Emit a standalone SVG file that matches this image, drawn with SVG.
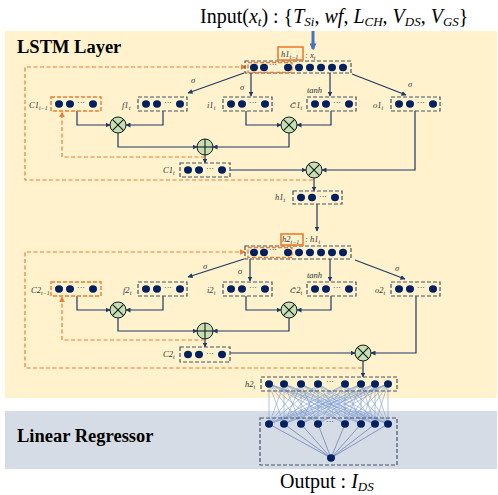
<svg xmlns="http://www.w3.org/2000/svg" width="498" height="495" viewBox="0 0 498 495">
<style>
.bg1{fill:#FFF2CC}
.bg2{fill:#D6DCE5}
.title{font-family:"Liberation Serif",serif;font-weight:bold;font-size:18.5px;fill:#000}
.big{font-family:"Liberation Serif",serif;font-size:20px;fill:#000}
.lab{font-family:"Liberation Serif",serif;font-style:italic;font-size:8.5px;fill:#333}
.tl{font-family:"DejaVu Serif",serif}
.box{fill:none;stroke:#44546A;stroke-width:1.2;stroke-dasharray:4 2}
.obox{fill:none;stroke:#ED7D31;stroke-width:1.4;stroke-dasharray:4 2}
.osolid{fill:none;stroke:#ED7D31;stroke-width:1.6}
.dot{fill:#002060}
.lna{fill:none;stroke:#1F3864;stroke-width:1.2;marker-end:url(#ah)}
.ola{fill:none;stroke:#ED7D31;stroke-width:1.2;stroke-dasharray:4 2.5;marker-end:url(#oh)}
.op{fill:#C5E0B4;stroke:#1a1a1a;stroke-width:1}
.opl{stroke:#1a1a1a;stroke-width:1.1}
.dense{stroke:#7F9CD0;stroke-width:0.6}
.out{stroke:#4A68A8;stroke-width:0.6}
.dots3{font-family:"Liberation Serif",serif;font-size:8px;fill:#002060}
</style>
<defs>
<marker id="ah" viewBox="0 0 10 10" refX="9" refY="5" markerWidth="5" markerHeight="5" orient="auto" markerUnits="userSpaceOnUse">
<path d="M0,0 L10,5 L0,10 z" fill="#1F3864"/>
</marker>
<marker id="oh" viewBox="0 0 10 10" refX="9" refY="5" markerWidth="6" markerHeight="6" orient="auto" markerUnits="userSpaceOnUse">
<path d="M0,0 L10,5 L0,10 z" fill="#ED7D31"/>
</marker>
<marker id="bh" viewBox="0 0 10 10" refX="8" refY="5" markerWidth="7" markerHeight="7" orient="auto" markerUnits="userSpaceOnUse">
<path d="M0,0 L10,5 L0,10 z" fill="#4472C4"/>
</marker>
<g id="row4">
<ellipse class="dot" cx="8" cy="7" rx="4" ry="3.7"/>
<ellipse class="dot" cx="19" cy="7" rx="4" ry="3.7"/>
<text class="dots3" x="26" y="8">···</text>
<ellipse class="dot" cx="42" cy="7" rx="4" ry="3.7"/>
</g>
<g id="mul">
<circle class="op" cx="0" cy="0" r="8"/>
<line class="opl" x1="-5.6" y1="-5.6" x2="5.6" y2="5.6"/>
<line class="opl" x1="-5.6" y1="5.6" x2="5.6" y2="-5.6"/>
</g>
<g id="add">
<circle class="op" cx="0" cy="0" r="8"/>
<line class="opl" x1="-8" y1="0" x2="8" y2="0"/>
<line class="opl" x1="0" y1="-8" x2="0" y2="8"/>
</g>
</defs>

<!-- backgrounds -->
<rect class="bg1" x="5" y="31" width="492" height="367"/>
<rect class="bg2" x="5" y="411" width="492" height="58"/>

<text class="title" x="17" y="53">LSTM Layer</text>
<text class="title" x="17" y="442">Linear Regressor</text>

<text class="big" x="200" y="23">Input(<tspan font-style="italic">x</tspan><tspan font-style="italic" font-size="13" dy="3">t</tspan><tspan dy="-3">) : {</tspan><tspan font-style="italic">T</tspan><tspan font-style="italic" font-size="13" dy="3">Si</tspan><tspan dy="-3">,  </tspan><tspan font-style="italic">wf</tspan>,  <tspan font-style="italic">L</tspan><tspan font-style="italic" font-size="13" dy="3">CH</tspan><tspan dy="-3">,  </tspan><tspan font-style="italic">V</tspan><tspan font-style="italic" font-size="13" dy="3">DS</tspan><tspan dy="-3">,  </tspan><tspan font-style="italic">V</tspan><tspan font-style="italic" font-size="13" dy="3">GS</tspan><tspan dy="-3">}</tspan></text>

<text class="big" x="280" y="488" font-size="19">Output : <tspan font-style="italic">I</tspan><tspan font-style="italic" font-size="13" dy="3">DS</tspan></text>

<!-- connectors -->
<g id="connectors">
<line x1="313" y1="31" x2="313" y2="49" stroke="#4472C4" stroke-width="3" marker-end="url(#bh)"/>
<!-- layer 1 -->
<path class="lna" d="M244 73 L188 93"/>
<path class="lna" d="M251 73 V96"/>
<path class="lna" d="M330 73 V96"/>
<path class="lna" d="M352 74 L406 95"/>
<path class="lna" d="M77 111 V125 H110"/>
<path class="lna" d="M163 111 V125 H126"/>
<path class="lna" d="M118 133 V147 H197"/>
<path class="lna" d="M246 111 V125 H281"/>
<path class="lna" d="M331 111 V125 H297"/>
<path class="lna" d="M289 133 V147 H213"/>
<path class="lna" d="M205 155 V163"/>
<path class="lna" d="M230 170 H306"/>
<path class="lna" d="M415 111 V170 H322"/>
<path class="lna" d="M314 178 V191"/>
<path class="ola" d="M205 157 H62 V112"/>
<path class="ola" d="M313 180 H25 V67 H246"/>
<path class="lna" d="M317 204 V231"/>
<!-- layer 2 -->
<path class="lna" d="M244 259 L188 277"/>
<path class="lna" d="M250 259 V281"/>
<path class="lna" d="M330 259 V281"/>
<path class="lna" d="M355 260 L405 279"/>
<path class="lna" d="M77 296 V310 H110"/>
<path class="lna" d="M163 296 V310 H126"/>
<path class="lna" d="M118 318 V331 H197"/>
<path class="lna" d="M246 296 V310 H281"/>
<path class="lna" d="M331 296 V310 H297"/>
<path class="lna" d="M289 318 V331 H213"/>
<path class="lna" d="M205 339 V347"/>
<path class="lna" d="M230 353 H355"/>
<path class="lna" d="M416 296 V353 H371"/>
<path class="lna" d="M363 361 V377"/>
<path class="ola" d="M205 340 H62 V297"/>
<path class="ola" d="M362 368 H25 V252 H245"/>
<!-- dense -->
<g id="dense-lines">
<path class="dense" d="M269 384 L269 424 M269 384 L284 424 M269 384 L301 424 M269 384 L318 424 M269 384 L345 424 M269 384 L361 424 M269 384 L375 424 M269 384 L388 424
M284 384 L269 424 M284 384 L284 424 M284 384 L301 424 M284 384 L318 424 M284 384 L345 424 M284 384 L361 424 M284 384 L375 424 M284 384 L388 424
M301 384 L269 424 M301 384 L284 424 M301 384 L301 424 M301 384 L318 424 M301 384 L345 424 M301 384 L361 424 M301 384 L375 424 M301 384 L388 424
M318 384 L269 424 M318 384 L284 424 M318 384 L301 424 M318 384 L318 424 M318 384 L345 424 M318 384 L361 424 M318 384 L375 424 M318 384 L388 424
M345 384 L269 424 M345 384 L284 424 M345 384 L301 424 M345 384 L318 424 M345 384 L345 424 M345 384 L361 424 M345 384 L375 424 M345 384 L388 424
M361 384 L269 424 M361 384 L284 424 M361 384 L301 424 M361 384 L318 424 M361 384 L345 424 M361 384 L361 424 M361 384 L375 424 M361 384 L388 424
M375 384 L269 424 M375 384 L284 424 M375 384 L301 424 M375 384 L318 424 M375 384 L345 424 M375 384 L361 424 M375 384 L375 424 M375 384 L388 424
M388 384 L269 424 M388 384 L284 424 M388 384 L301 424 M388 384 L318 424 M388 384 L345 424 M388 384 L361 424 M388 384 L375 424 M388 384 L388 424"/>
<path class="out" d="M269 424 L331 458 M284 424 L331 458 M301 424 L331 458 M318 424 L331 458 M345 424 L331 458 M361 424 L331 458 M375 424 L331 458 M388 424 L331 458"/>
</g>
</g>

<!-- gate labels -->
<g id="labels1">
<text class="lab" x="191" y="83">σ</text>
<text class="lab" x="240" y="90">σ</text>
<text class="lab" x="307" y="93">tanh</text>
<text class="lab" x="408" y="87">σ</text>
</g>
<g id="labels2">
<text class="lab" x="203" y="269">σ</text>
<text class="lab" x="238" y="274">σ</text>
<text class="lab" x="307" y="278">tanh</text>
<text class="lab" x="395" y="271">σ</text>
</g>

<!-- layer 1 nodes -->
<g id="concat1">
<rect class="box" x="245" y="61" width="106" height="12"/>
<rect class="obox" x="248" y="62.5" width="44" height="10"/>
<ellipse class="dot" cx="254" cy="67.5" rx="4" ry="3.7"/>
<ellipse class="dot" cx="264" cy="67.5" rx="4" ry="3.7"/>
<text class="dots3" x="269" y="67">···</text>
<ellipse class="dot" cx="288" cy="67.5" rx="4" ry="3.7"/>
<ellipse class="dot" cx="299" cy="67.5" rx="4" ry="3.7"/>
<ellipse class="dot" cx="310" cy="67.5" rx="4" ry="3.7"/>
<ellipse class="dot" cx="321" cy="67.5" rx="4" ry="3.7"/>
<ellipse class="dot" cx="332" cy="67.5" rx="4" ry="3.7"/>
<ellipse class="dot" cx="343" cy="67.5" rx="4" ry="3.7"/>
<rect class="osolid" x="278" y="47" width="25" height="13"/>
<text class="lab" x="281" y="57">h1<tspan font-size="6" dy="2">t−1</tspan></text>
<text class="lab" x="305" y="58">:  x<tspan font-size="6" dy="2">t</tspan></text>
</g>
<g id="C1prev">
<rect class="obox" x="51" y="97" width="50" height="14"/>
<use href="#row4" x="51" y="97"/>
<text class="lab" x="29" y="108">C1<tspan font-size="6" dy="2">t−1</tspan></text>
</g>
<g id="f1">
<rect class="box" x="138" y="97" width="49" height="14"/>
<use href="#row4" x="138" y="97"/>
<text class="lab" x="122" y="108">f1<tspan font-size="6" dy="2">t</tspan></text>
</g>
<g id="i1">
<rect class="box" x="223" y="97" width="49" height="14"/>
<use href="#row4" x="223" y="97"/>
<text class="lab" x="207" y="108">i1<tspan font-size="6" dy="2">t</tspan></text>
</g>
<g id="Ct1">
<rect class="box" x="307" y="97" width="49" height="14"/>
<use href="#row4" x="307" y="97"/>
<text class="lab" x="290" y="108"><tspan class="tl" font-size="8">C̃</tspan>1<tspan font-size="6" dy="2">t</tspan></text>
</g>
<g id="o1">
<rect class="box" x="391" y="97" width="49" height="14"/>
<use href="#row4" x="391" y="97"/>
<text class="lab" x="373" y="108">o1<tspan font-size="6" dy="2">t</tspan></text>
</g>
<g id="mul1a"><use href="#mul" x="118" y="125"/></g>
<g id="mul1b"><use href="#mul" x="289" y="125"/></g>
<g id="add1"><use href="#add" x="205" y="147"/></g>
<g id="mul1c"><use href="#mul" x="314" y="170"/></g>
<g id="C1t">
<rect class="box" x="180" y="163" width="50" height="14"/>
<use href="#row4" x="180" y="163"/>
<text class="lab" x="163" y="173">C1<tspan font-size="6" dy="2">t</tspan></text>
</g>
<g id="h1t">
<rect class="box" x="293" y="191" width="49" height="13"/>
<use href="#row4" x="293" y="190.5"/>
<text class="lab" x="275" y="200">h1<tspan font-size="6" dy="2">t</tspan></text>
</g>

<!-- layer 2 nodes -->
<g id="concat2">
<rect class="box" x="245" y="246" width="106" height="13"/>
<rect class="obox" x="248" y="247.5" width="44" height="10"/>
<ellipse class="dot" cx="254" cy="252.5" rx="4" ry="3.7"/>
<ellipse class="dot" cx="264" cy="252.5" rx="4" ry="3.7"/>
<text class="dots3" x="269" y="252">···</text>
<ellipse class="dot" cx="288" cy="252.5" rx="4" ry="3.7"/>
<ellipse class="dot" cx="299" cy="252.5" rx="4" ry="3.7"/>
<ellipse class="dot" cx="310" cy="252.5" rx="4" ry="3.7"/>
<ellipse class="dot" cx="321" cy="252.5" rx="4" ry="3.7"/>
<ellipse class="dot" cx="332" cy="252.5" rx="4" ry="3.7"/>
<ellipse class="dot" cx="343" cy="252.5" rx="4" ry="3.7"/>
<rect class="osolid" x="281" y="234" width="22" height="11" stroke-width="1.2"/>
<text class="lab" x="282" y="242">h2<tspan font-size="6" dy="2">t−1</tspan></text>
<text class="lab" x="305" y="242">:  h1<tspan font-size="6" dy="2">t</tspan></text>
</g>
<g id="C2prev">
<rect class="obox" x="51" y="282" width="50" height="14"/>
<use href="#row4" x="51" y="282"/>
<text class="lab" x="31" y="293">C2<tspan font-size="6" dy="2">t−1</tspan></text>
</g>
<g id="f2">
<rect class="box" x="138" y="282" width="49" height="14"/>
<use href="#row4" x="138" y="282"/>
<text class="lab" x="123" y="293">f2<tspan font-size="6" dy="2">t</tspan></text>
</g>
<g id="i2">
<rect class="box" x="223" y="282" width="49" height="14"/>
<use href="#row4" x="223" y="282"/>
<text class="lab" x="207" y="293">i2<tspan font-size="6" dy="2">t</tspan></text>
</g>
<g id="Ct2">
<rect class="box" x="307" y="282" width="49" height="14"/>
<use href="#row4" x="307" y="282"/>
<text class="lab" x="290" y="293"><tspan class="tl" font-size="8">C̃</tspan>2<tspan font-size="6" dy="2">t</tspan></text>
</g>
<g id="o2">
<rect class="box" x="391" y="282" width="49" height="14"/>
<use href="#row4" x="391" y="282"/>
<text class="lab" x="375" y="293">o2<tspan font-size="6" dy="2">t</tspan></text>
</g>
<g id="mul2a"><use href="#mul" x="118" y="310"/></g>
<g id="mul2b"><use href="#mul" x="289" y="310"/></g>
<g id="add2"><use href="#add" x="205" y="331"/></g>
<g id="mul2c"><use href="#mul" x="363" y="353"/></g>
<g id="C2t">
<rect class="box" x="180" y="347" width="50" height="15"/>
<use href="#row4" x="180" y="347.5"/>
<text class="lab" x="163" y="357">C2<tspan font-size="6" dy="2">t</tspan></text>
</g>

<!-- regressor nodes -->
<g id="h2t">
<rect class="box" x="261" y="377" width="136" height="14"/>
<text class="lab" x="245" y="387">h2<tspan font-size="6" dy="2">t</tspan></text>
<ellipse class="dot" cx="269" cy="384" rx="4" ry="3.7"/>
<ellipse class="dot" cx="284" cy="384" rx="4" ry="3.7"/>
<ellipse class="dot" cx="301" cy="384" rx="4" ry="3.7"/>
<ellipse class="dot" cx="318" cy="384" rx="4" ry="3.7"/>
<text class="dots3" x="326" y="384">···</text>
<ellipse class="dot" cx="345" cy="384" rx="4" ry="3.7"/>
<ellipse class="dot" cx="361" cy="384" rx="4" ry="3.7"/>
<ellipse class="dot" cx="375" cy="384" rx="4" ry="3.7"/>
<ellipse class="dot" cx="388" cy="384" rx="4" ry="3.7"/>
</g>
<g id="regressor">
<rect class="box" x="260" y="418" width="137" height="47"/>
<ellipse class="dot" cx="269" cy="424" rx="4" ry="3.7"/>
<ellipse class="dot" cx="284" cy="424" rx="4" ry="3.7"/>
<ellipse class="dot" cx="301" cy="424" rx="4" ry="3.7"/>
<ellipse class="dot" cx="318" cy="424" rx="4" ry="3.7"/>
<text class="dots3" x="326" y="424">···</text>
<ellipse class="dot" cx="345" cy="424" rx="4" ry="3.7"/>
<ellipse class="dot" cx="361" cy="424" rx="4" ry="3.7"/>
<ellipse class="dot" cx="375" cy="424" rx="4" ry="3.7"/>
<ellipse class="dot" cx="388" cy="424" rx="4" ry="3.7"/>
</g>
<g id="output">
<ellipse class="dot" cx="331" cy="458" rx="4" ry="3.7"/>
</g>
</svg>
